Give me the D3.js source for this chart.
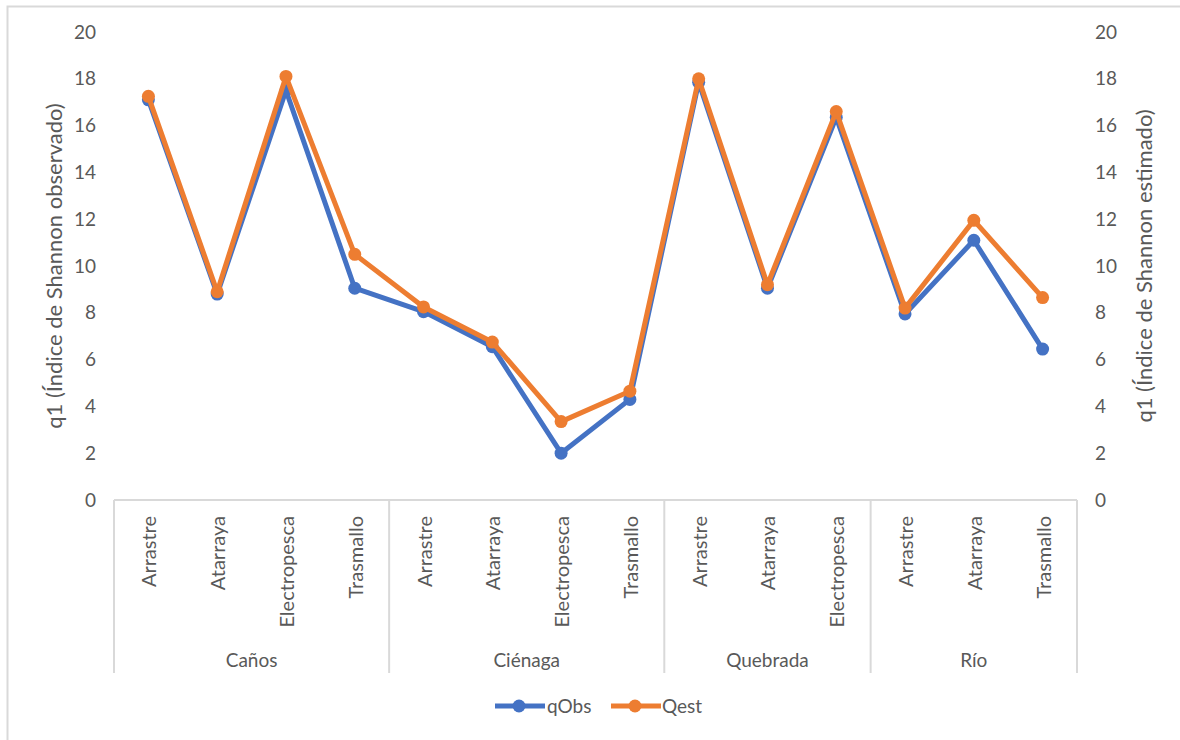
<!DOCTYPE html>
<html>
<head>
<meta charset="utf-8">
<script src="https://cdn.jsdelivr.net/npm/d3@7"></script>
<style>
  html, body { margin: 0; padding: 0; background: #fff; }
  svg { display: block; font-family: Lato, "Open Sans", sans-serif; }
</style>
</head>
<body>
<svg id="chart" width="1180" height="740"></svg>
<script>
// Habitat groups and the fishing gears sampled in each one
const groups = ["Caños", "Ciénaga", "Quebrada", "Río"];
const gears = [
  ["Arrastre", "Atarraya", "Electropesca", "Trasmallo"],
  ["Arrastre", "Atarraya", "Electropesca", "Trasmallo"],
  ["Arrastre", "Atarraya", "Electropesca"],
  ["Arrastre", "Atarraya", "Trasmallo"]
];
// q1 (Shannon) observed and estimated, in the same order as the gears above
const qObs = [17.1, 8.8, 17.5, 9.05, 8.05, 6.55, 2.0, 4.3, 17.85, 9.05, 16.35, 7.95, 11.1, 6.45];
const qEst = [17.25, 8.9, 18.1, 10.5, 8.25, 6.75, 3.35, 4.65, 18.0, 9.2, 16.6, 8.2, 11.95, 8.65];
const yTicks = [0, 2, 4, 6, 8, 10, 12, 14, 16, 18, 20];
const seriesNames = ["qObs", "Qest"];
const seriesColors = ["#4472C4", "#ED7D31"];

const svg = d3.select("#chart");
const plot = { left: 114, right: 1077, top: 32, bottom: 500 };
const textColor = "#595959";
const gridColor = "#d9d9d9";

// Chart frame
svg.append("rect")
  .attr("x", 7.5).attr("y", 6.5)
  .attr("width", 1200).attr("height", 800)
  .attr("fill", "#fff")
  .attr("stroke", gridColor).attr("stroke-width", 2);

// Flatten categories with their group index
const cats = [];
gears.forEach((list, gi) => list.forEach(g => cats.push({ group: gi, gear: g })));
const idx = cats.map((d, i) => i);

const x = d3.scaleBand().domain(idx).range([plot.left, plot.right]);
const y = d3.scaleLinear().domain([0, 20]).range([plot.bottom, plot.top]);

// Left value axis (labels only)
const yLeft = svg.append("g")
  .attr("transform", `translate(${plot.left - 18},0)`)
  .call(d3.axisLeft(y).tickValues(yTicks).tickSize(0).tickPadding(0));
yLeft.select(".domain").remove();
yLeft.selectAll("text").attr("fill", textColor).style("font-size", "19px")
  .style("font-family", "Lato, sans-serif");

// Right value axis (labels only)
const yRight = svg.append("g")
  .attr("transform", `translate(${plot.right + 18},0)`)
  .call(d3.axisRight(y).tickValues(yTicks).tickSize(0).tickPadding(0));
yRight.select(".domain").remove();
yRight.selectAll("text").attr("fill", textColor).style("font-size", "19px")
  .style("font-family", "Lato, sans-serif");

// Axis titles
svg.append("text")
  .attr("transform", `translate(62,${(plot.top + plot.bottom) / 2}) rotate(-90)`)
  .attr("text-anchor", "middle").attr("fill", textColor)
  .style("font-size", "22px")
  .text("q1 (Índice de Shannon observado)");
svg.append("text")
  .attr("transform", `translate(1152,${(plot.top + plot.bottom) / 2}) rotate(-90)`)
  .attr("text-anchor", "middle").attr("fill", textColor)
  .style("font-size", "22px")
  .text("q1 (Índice de Shannon estimado)");

// Category axis: baseline, group dividers, gear labels and group labels
const axisBottom = 673;
svg.append("line")
  .attr("x1", plot.left).attr("x2", plot.right)
  .attr("y1", plot.bottom).attr("y2", plot.bottom)
  .attr("stroke", gridColor).attr("stroke-width", 2);

let start = 0;
const bounds = [];
gears.forEach((list, gi) => {
  bounds.push({ gi, a: start, b: start + list.length - 1 });
  start += list.length;
});
const edges = [x(0)].concat(bounds.map(b => x(b.b) + x.bandwidth()));
svg.selectAll("line.div").data(edges).join("line")
  .attr("class", "div")
  .attr("x1", d => d).attr("x2", d => d)
  .attr("y1", plot.bottom).attr("y2", axisBottom)
  .attr("stroke", gridColor).attr("stroke-width", 2);

svg.selectAll("text.gear").data(cats).join("text")
  .attr("class", "gear")
  .attr("transform", (d, i) => `translate(${x(i) + x.bandwidth() / 2 + 8},516) rotate(-90)`)
  .attr("text-anchor", "end")
  .attr("fill", textColor)
  .style("font-size", "20px")
  .text(d => d.gear);

svg.selectAll("text.grp").data(bounds).join("text")
  .attr("class", "grp")
  .attr("x", d => (x(d.a) + x(d.b) + x.bandwidth()) / 2)
  .attr("y", 667)
  .attr("text-anchor", "middle")
  .attr("fill", textColor)
  .style("font-size", "19px")
  .text(d => groups[d.gi]);

// Series lines with round markers
const line = d3.line()
  .x((d, i) => x(i) + x.bandwidth() / 2)
  .y(d => y(d));

[qObs, qEst].forEach((vals, si) => {
  svg.append("path")
    .datum(vals)
    .attr("fill", "none")
    .attr("stroke", seriesColors[si])
    .attr("stroke-width", 5)
    .attr("stroke-linejoin", "round")
    .attr("d", line);
  svg.selectAll(null).data(vals).join("circle")
    .attr("cx", (d, i) => x(i) + x.bandwidth() / 2)
    .attr("cy", d => y(d))
    .attr("r", 6.5)
    .attr("fill", seriesColors[si]);
});

// Legend
const legendItems = [{ x0: 495, tx: 547 }, { x0: 611, tx: 662 }];
legendItems.forEach((it, si) => {
  const g = svg.append("g");
  g.append("line")
    .attr("x1", it.x0).attr("x2", it.x0 + 50)
    .attr("y1", 706).attr("y2", 706)
    .attr("stroke", seriesColors[si]).attr("stroke-width", 5);
  g.append("circle")
    .attr("cx", it.x0 + 24).attr("cy", 706).attr("r", 6.5)
    .attr("fill", seriesColors[si]);
  g.append("text")
    .attr("x", it.tx).attr("y", 713)
    .attr("fill", textColor)
    .style("font-size", "19px")
    .text(seriesNames[si]);
});
</script>
</body>
</html>
